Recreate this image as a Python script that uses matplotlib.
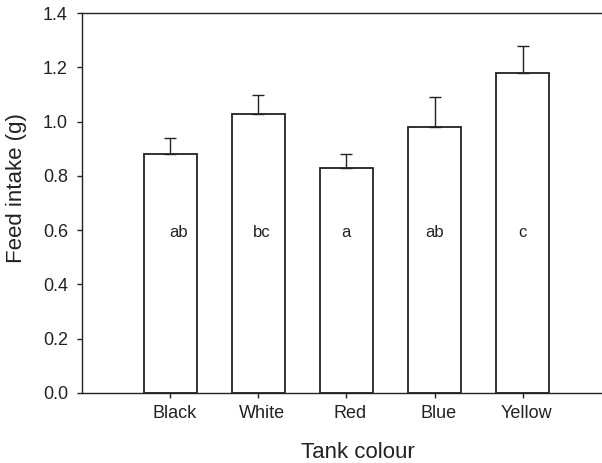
import matplotlib
matplotlib.use('Agg')
import matplotlib.pyplot as plt
import matplotlib.transforms as mtransforms
import numpy as np

plt.rcParams['font.family'] = ['Liberation Sans', 'DejaVu Sans']

# data
colours = ['Black', 'White', 'Red', 'Blue', 'Yellow']
intake = [0.88, 1.03, 0.83, 0.98, 1.18]
intake_err = [0.06, 0.07, 0.05, 0.11, 0.10]
groups = ['ab', 'bc', 'a', 'ab', 'c']
y_ticks = [0.0, 0.2, 0.4, 0.6, 0.8, 1.0, 1.2, 1.4]

line_col = '#222222'

fig = plt.figure(figsize=(6.02, 4.63), dpi=100)
ax = fig.add_axes((0.1362, 0.1518, 0.8638, 0.8195))

x = np.arange(len(colours))
ax.bar(x, intake, width=0.6, color='white', edgecolor=line_col, linewidth=1.3,
       yerr=[np.zeros(len(intake)), intake_err],
       error_kw=dict(ecolor=line_col, elinewidth=1.0, capsize=4, capthick=1.0))

# group letters inside bars
label_dx = [0.1, 0.04, 0.0, 0.0, 0.0]
for xi, g, dx in zip(x, groups, label_dx):
    ax.text(xi + dx, 0.59, g, ha='center', va='center', fontsize=12, color=line_col)

ax.set_xlim(-1.0, 4.9)
ax.set_ylim(0, 1.4)
ax.set_xticks(x)
ax.set_xticklabels(colours)
ax.set_yticks(y_ticks)
ax.set_yticklabels([f'{v:.1f}' for v in y_ticks])

for side in ['left', 'top', 'bottom']:
    ax.spines[side].set_color(line_col)
    ax.spines[side].set_linewidth(1.0)
ax.spines['right'].set_visible(False)

ax.tick_params(axis='both', colors=line_col, labelcolor='#222222', labelsize=13,
               length=3.6, width=1.0, direction='out')
ax.tick_params(axis='x', pad=5)
ax.tick_params(axis='y', pad=6.5)

# x tick labels sit a little right of the ticks in the original
shift = mtransforms.ScaledTranslation(0.04, 0, fig.dpi_scale_trans)
for lbl in ax.get_xticklabels():
    lbl.set_transform(lbl.get_transform() + shift)

ax.set_xlabel('Tank colour', fontsize=16, color=line_col, va='top')
ax.xaxis.set_label_coords(0.531, -0.129)
ax.set_ylabel('Feed intake (g)', fontsize=16, color=line_col)
ax.yaxis.set_label_coords(-0.106, 0.54)

fig.savefig('out.png', dpi=100)
